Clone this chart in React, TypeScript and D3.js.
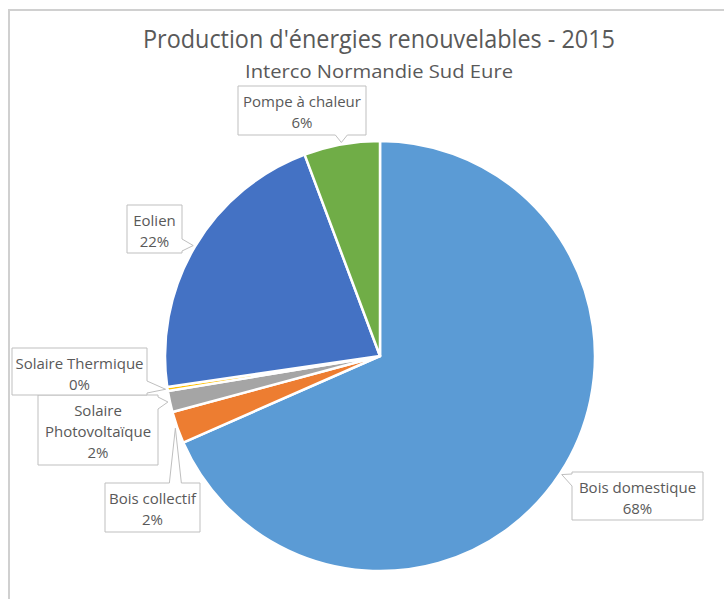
import React from 'react';
import * as d3 from 'd3';

const categories = ['Bois domestique', 'Bois collectif', 'Solaire Photovoltaïque', 'Solaire Thermique', 'Eolien', 'Pompe à chaleur'];
const values = [68.4, 2.4, 1.6, 0.3, 21.6, 5.7];
const colors = ['#5B9BD5', '#ED7D31', '#A5A5A5', '#FFC000', '#4472C4', '#70AD47'];
const labelLines = [['Bois domestique'], ['Bois collectif'], ['Solaire', 'Photovoltaïque'], ['Solaire Thermique'], ['Eolien'], ['Pompe à chaleur']];
const title = "Production d'énergies renouvelables - 2015";
const subtitle = 'Interco Normandie Sud Eure';

const W = 724, H = 599;
const cx = 380, cy = 356, R = 215;
const boxes = [
  { x: 572, y: 472, w: 131, h: 48 },
  { x: 105, y: 483, w: 95, h: 49 },
  { x: 38, y: 395, w: 120, h: 70 },
  { x: 12, y: 348, w: 135, h: 47 },
  { x: 127, y: 205, w: 55, h: 48 },
  { x: 238, y: 86, w: 128, h: 49 },
];

function calloutPath(b: any, tip: [number, number]) {
  const { x, y, w, h } = b;
  const r = x + w, bt = y + h;
  const [tx, ty] = tip;
  let side: string;
  if (tx > r) side = 'right';
  else if (tx < x) side = 'left';
  else if (ty < y) side = 'top';
  else side = 'bottom';
  const half = 6;
  const cl = (v: number, a: number, c: number) => Math.max(a + half + 2, Math.min(c - half - 2, v));
  const p: [number, number][] = [];
  p.push([x, y]);
  if (side === 'top') { const c = cl(tx, x, r); p.push([c - half, y], [tx, ty], [c + half, y]); }
  p.push([r, y]);
  if (side === 'right') { const c = cl(ty, y, bt); p.push([r, c - half], [tx, ty], [r, c + half]); }
  p.push([r, bt]);
  if (side === 'bottom') { const c = cl(tx, x, r); p.push([c + half, bt], [tx, ty], [c - half, bt]); }
  p.push([x, bt]);
  if (side === 'left') { const c = cl(ty, y, bt); p.push([x, c + half], [tx, ty], [x, c - half]); }
  return 'M' + p.map(q => q.join(',')).join('L') + 'Z';
}

export default function App() {
  const total = d3.sum(values);
  const pie = d3.pie<number>().sort(null).value(d => d);
  const arcs = pie(values);
  const arc = d3.arc<any>().innerRadius(0).outerRadius(R);
  const font = "'Open Sans', 'DejaVu Sans', sans-serif";
  return (
    <svg width={W} height={H} style={{ position: 'absolute', left: 0, top: 0, background: '#fff' }}>
      <rect x={9} y={10} width={W + 20} height={H + 20} fill="#fff" stroke="#d0d0d0" strokeWidth={2} />
      <text x={379} y={48} textAnchor="middle" fontFamily={font} fontSize={25} fill="#595959" textLength={472} lengthAdjust="spacingAndGlyphs">{title}</text>
      <text x={379} y={78} textAnchor="middle" fontFamily={font} fontSize={19} fill="#595959" textLength={268} lengthAdjust="spacingAndGlyphs">{subtitle}</text>
      <g transform={`translate(${cx},${cy})`}>
        {arcs.map((a, i) => (
          <path key={categories[i]} d={arc(a) as string} fill={colors[i]} stroke="#fff" strokeWidth={2.5} strokeLinejoin="round" />
        ))}
      </g>
      {arcs.map((a, i) => {
        const mid = (a.startAngle + a.endAngle) / 2;
        const tip: [number, number] = [cx + (R + 2) * Math.sin(mid), cy - (R + 2) * Math.cos(mid)];
        const b = boxes[i];
        const lines = [...labelLines[i], `${Math.round((values[i] / total) * 100)}%`];
        return (
          <g key={'l' + i}>
            <path d={calloutPath(b, tip)} fill="#fff" stroke="#bfbfbf" strokeWidth={1} />
            {lines.map((t, j) => (
              <text key={j} x={b.x + b.w / 2} y={b.y + 21 + j * 21} textAnchor="middle" fontFamily={font} fontSize={15} fill="#595959">{t}</text>
            ))}
          </g>
        );
      })}
    </svg>
  );
}
